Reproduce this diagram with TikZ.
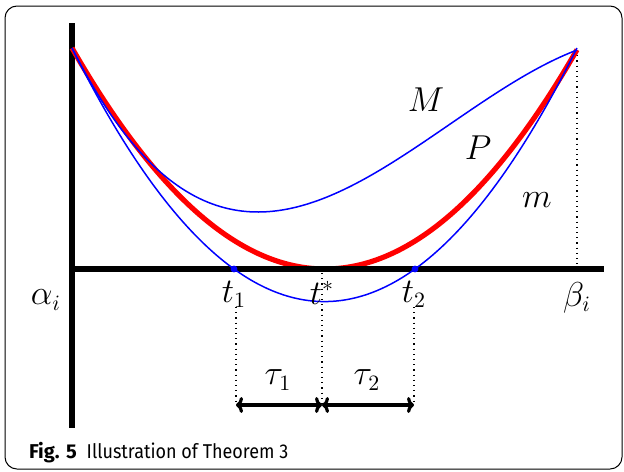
\documentclass[tikz,border=0pt]{standalone}
\usepackage{fontspec}
\usetikzlibrary{arrows.meta}
\newfontfamily\capfont{Fira Sans}
\tikzset{
  curve/.style={blue, line width=0.75pt},
  pcurve/.style={red, line width=2.6pt},
  axis/.style={line width=3pt},
  guide/.style={dotted, line width=0.6pt},
  span/.style={{To[length=3.5pt,width=8pt]}-{To[length=3.5pt,width=8pt]}, line width=1.6pt},
  dot/.style={circle, fill=blue, inner sep=0pt, minimum size=3.4pt},
  lab/.style={font=\fontsize{16}{19}\selectfont},
}
\begin{document}
\begin{tikzpicture}[x=0.5pt,y=-0.5pt,
  declare function={sM(\u)=(\u-258)/100;
    hM(\u)=57+35.807*sM(\u)*sM(\u)-6.235*sM(\u)*sM(\u)*sM(\u);
    hm(\u)=39.77*((\u-234)/100)*((\u-415)/100);
    hP(\u)=34.53*((\u-325)/100)*((\u-325)/100);}]
\useasboundingbox (0,0) rectangle (624,471);
\draw[rounded corners=6pt, line width=0.5pt] (5,6) rectangle (622,469);
% axes
\coordinate (ytop) at (72,23);
\coordinate (ybot) at (72,428);
\coordinate (o) at (72,269);
\coordinate (xend) at (604,269);
\coordinate (b) at (577,50);
\coordinate (bx) at (577,269);
\draw[guide] (b) -- (bx);
\draw[axis] (ytop) -- (ybot);
\draw[pcurve] plot[domain=72:577, samples=120] (\x,{269-hP(\x)});
\draw[axis] (o) -- (xend);
\draw[curve] plot[domain=72:577, samples=120] (\x,{269-hM(\x)});
\draw[curve] plot[domain=72:577, samples=120] (\x,{269-hm(\x)});
\node[dot] (d1) at (234,269) {};
\node[dot] (d2) at (415,269) {};
% labels
\node[lab] (al) at (46,300) {$\alpha_i$};
\node[lab] (l1) at (234,294) {$t_1$};
\node[lab] (ls) at (322,293) {$t^*$};
\node[lab] (l2) at (414,294) {$t_2$};
\node[lab] (bl) at (577,298) {$\beta_i$};
\node[lab] (lM) at (426,100) {$M$};
\node[lab] (lP) at (478,148) {$P$};
\node[lab] (lm) at (537,200) {$m$};
\node[lab] (u1) at (278,380) {$\tau_1$};
\node[lab] (u2) at (367,380) {$\tau_2$};
% spans
\coordinate (a1) at (236,405);
\coordinate (as) at (322,405);
\coordinate (a2) at (414,405);
\coordinate (s1) at (236,307);
\coordinate (ss) at (322,273);
\coordinate (s2) at (414,307);
\draw[guide] (s1) -- (a1);
\draw[guide] (ss) -- (as);
\draw[guide] (s2) -- (a2);
\draw[span] (a1) -- (as);
\draw[span] (as) -- (a2);
\node[anchor=base west, font=\capfont\fontsize{10}{12}\selectfont] (cap) at (22,458) {\textbf{Fig. 5}\hspace{5pt}\scalebox{0.9}[1]{Illustration of Theorem 3}};
\end{tikzpicture}
\end{document}
